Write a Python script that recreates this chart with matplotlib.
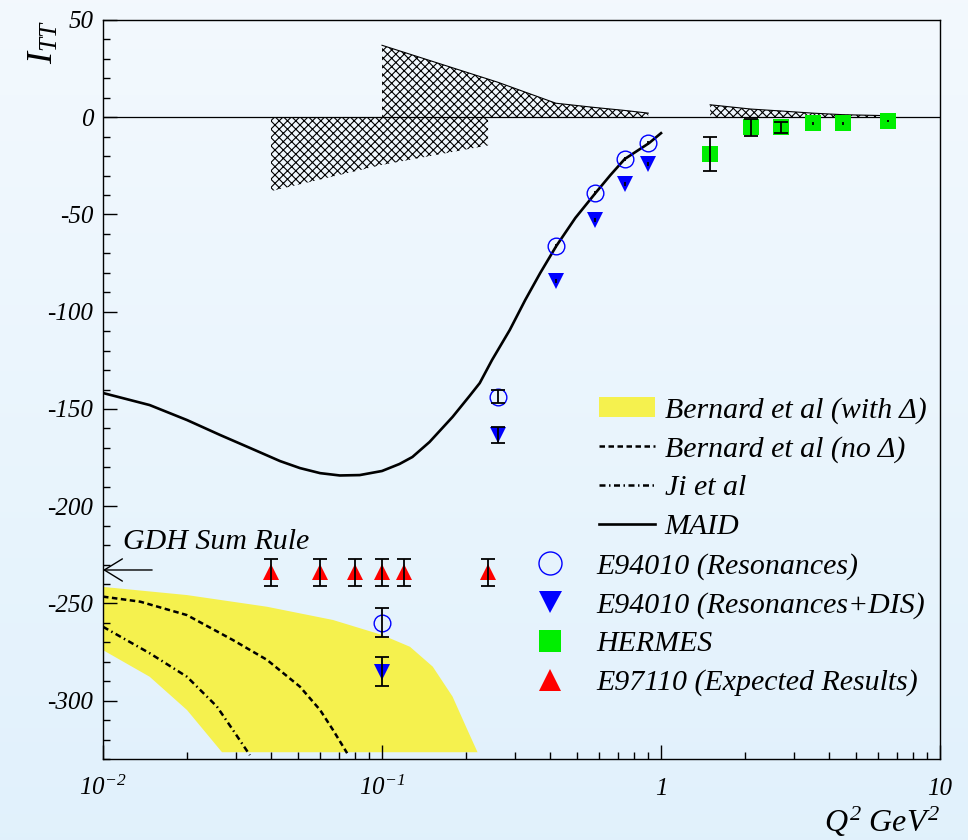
import matplotlib
matplotlib.use("Agg")
import matplotlib.pyplot as plt
import numpy as np
from matplotlib.ticker import MultipleLocator, FixedLocator, LogLocator, NullFormatter

plt.rcParams["font.family"] = ["Liberation Serif", "DejaVu Serif"]
plt.rcParams["font.style"] = "italic"
plt.rcParams["mathtext.fontset"] = "custom"
plt.rcParams["mathtext.rm"] = "Liberation Serif:italic"
plt.rcParams["mathtext.it"] = "Liberation Serif:italic"
plt.rcParams["axes.unicode_minus"] = False
plt.rcParams["hatch.linewidth"] = 0.8

# MAID model
maid_q2 = [0.01, 0.0147, 0.02, 0.0263, 0.0337, 0.0431, 0.0508, 0.06, 0.0706, 0.0832, 0.1,
           0.1155, 0.1285, 0.148, 0.179, 0.206, 0.224, 0.248, 0.287, 0.326, 0.369, 0.421,
           0.493, 0.582, 0.659, 0.741, 0.906, 1.0]
maid_itt = [-141.8, -148.0, -155.7, -163.4, -170.1, -176.8, -180.4, -183.0, -184.2, -184.0,
            -181.9, -178.3, -174.7, -167.0, -154.1, -143.3, -136.7, -124.8, -109.4, -94.0,
            -80.1, -66.3, -51.8, -39.0, -29.7, -21.5, -13.3, -8.2]

# Bernard et al with Delta: band edges
bern_up_q2 = [0.01, 0.02, 0.0387, 0.0667, 0.1, 0.126, 0.152, 0.179, 0.2, 0.22]
bern_up_itt = [-241.5, -245.7, -251.7, -258.5, -266.2, -272.3, -282.5, -297.9, -313.4, -326.5]
bern_lo_q2 = [0.01, 0.0147, 0.02, 0.0267]
bern_lo_itt = [-274.0, -287.7, -304.8, -326.5]

# Bernard et al without Delta
bern_nd_q2 = [0.01, 0.0136, 0.02, 0.0292, 0.0387, 0.0508, 0.06, 0.0667, 0.075]
bern_nd_itt = [-246.5, -249.1, -256.0, -268.8, -279.0, -292.8, -304.8, -315.0, -327.0]

# Ji et al
ji_q2 = [0.01, 0.0147, 0.02, 0.0256, 0.0292, 0.0336]
ji_itt = [-262.0, -275.6, -287.7, -303.0, -315.0, -328.0]

# E94010
e94_q2 = [0.1, 0.26, 0.42, 0.58, 0.74, 0.9]
e94_res = [-260.0, -143.7, -66.3, -39.0, -21.5, -13.3]
e94_res_err = [7.5, 3.3, 1.0, 1.0, 1.0, 1.0]
e94_dis = [-285.0, -163.4, -84.0, -53.0, -34.5, -24.0]
e94_dis_err = [7.3, 3.9, 1.0, 1.0, 1.0, 1.0]
e94_sys = [37.0, 18.0, 7.2, 5.0, 3.5, 2.1]

# HERMES
herm_q2 = [1.5, 2.1, 2.7, 3.5, 4.5, 6.5]
herm_itt = [-19.1, -5.2, -5.2, -3.2, -3.2, -2.1]
herm_err = [8.7, 4.3, 3.0, 1.0, 1.0, 0.6]
herm_sys = [6.4, 4.2, 3.2, 2.1, 1.3, 0.8]

# E97110 expected
e97_q2 = [0.04, 0.06, 0.08, 0.10, 0.12, 0.24]
e97_itt = [-234.0, -234.0, -234.0, -234.0, -234.0, -234.0]
e97_err = [7.0, 7.0, 7.0, 7.0, 7.0, 7.0]
e97_sys_q2 = [0.04, 0.1, 0.24]
e97_sys = [-38.0, -24.5, -14.5]

gdh_value = -232.8

fig = plt.figure(figsize=(9.68, 8.4), dpi=100)

# light blue background gradient
bg = fig.add_axes([0, 0, 1, 1], zorder=-10)
top = np.array([0.953, 0.976, 0.996])
bot = np.array([0.882, 0.945, 0.988])
t = np.linspace(0, 1, 256)[:, None]
grad = top[None, :] * (1 - t) + bot[None, :] * t
bg.imshow(grad[:, None, :], aspect="auto", extent=[0, 1, 0, 1])
bg.axis("off")

ax = fig.add_axes([0.1064, 0.0964, 0.8647, 0.8798])
ax.set_facecolor("none")
ax.set_xscale("log")

# Bernard band
ax.fill(np.r_[bern_up_q2, bern_lo_q2[::-1]], np.r_[bern_up_itt, bern_lo_itt[::-1]],
        color="#f5f14e", lw=0, label="Bernard et al (with Δ)", zorder=1)
ax.plot(bern_nd_q2, bern_nd_itt, color="black", lw=1.8, dashes=(2.2, 1.4),
        label="Bernard et al (no Δ)", zorder=2)
ax.plot(ji_q2, ji_itt, color="black", lw=1.8, dashes=(2.4, 1.4, 0.6, 1.4),
        label="Ji et al", zorder=2)
ax.plot(maid_q2, maid_itt, color="black", lw=1.9, label="MAID", zorder=2)

# systematic error bands
ax.fill_between(e97_sys_q2, 0, e97_sys, facecolor="none", edgecolor="black", hatch="xxxx", lw=0)
ax.fill_between(e94_q2, 0, e94_sys, facecolor="none", edgecolor="black", hatch="xxxx", lw=0)
ax.plot(e94_q2, e94_sys, color="black", lw=0.8)
ax.fill_between(herm_q2, 0, herm_sys, facecolor="none", edgecolor="black", hatch="xxxx", lw=0)
ax.plot(herm_q2, herm_sys, color="black", lw=0.8)

ax.axhline(0, color="black", lw=0.9, zorder=1.5)

# data points
ms = 12
h_res, = ax.plot(e94_q2, e94_res, ls="none", marker="o", ms=ms, mfc="none", mec="#0000ff",
                 mew=1.0, label="E94010 (Resonances)", zorder=4)
h_dis, = ax.plot(e94_q2, e94_dis, ls="none", marker="v", ms=ms, color="#0000ff", mew=0,
                 label="E94010 (Resonances+DIS)", zorder=4)
h_her, = ax.plot(herm_q2, herm_itt, ls="none", marker="s", ms=ms, color="#00ee00", mew=0,
                 label="HERMES", zorder=4)
h_e97, = ax.plot(e97_q2, e97_itt, ls="none", marker="^", ms=ms, color="#ff0000", mew=0,
                 label="E97110 (Expected Results)", zorder=4)


def draw_errors(q2, val, err):
    q2, val, err = np.asarray(q2), np.asarray(val), np.asarray(err)
    big = err > 2
    ax.errorbar(q2[big], val[big], yerr=err[big], fmt="none", ecolor="black",
                elinewidth=1.3, capsize=5, capthick=1.3, zorder=5)
    ax.errorbar(q2[~big], val[~big], yerr=err[~big], fmt="none", ecolor="black",
                elinewidth=1.3, capsize=0, zorder=5)


draw_errors(e94_q2, e94_res, e94_res_err)
draw_errors(e94_q2, e94_dis, e94_dis_err)
draw_errors(herm_q2, herm_itt, herm_err)
draw_errors(e97_q2, e97_itt, e97_err)

# GDH sum rule arrow
ax.annotate("", xy=(0.01, gdh_value), xytext=(0.015, gdh_value),
            arrowprops=dict(arrowstyle="->,head_length=13,head_width=8", lw=1.0,
                            color="black", mutation_scale=1, shrinkA=0, shrinkB=0))
ax.text(0.0118, -222, "GDH Sum Rule", fontsize=21.5, va="baseline", ha="left")

ax.set_xlim(0.01, 10)
ax.set_ylim(-330, 50)
ax.yaxis.set_major_locator(MultipleLocator(50))
ax.yaxis.set_minor_locator(MultipleLocator(10))
ax.xaxis.set_major_locator(FixedLocator([0.01, 0.1, 1, 10]))
ax.xaxis.set_minor_locator(LogLocator(base=10, subs=np.arange(2, 10)))
ax.xaxis.set_minor_formatter(NullFormatter())
ax.set_xticklabels(["$10^{-2}$", "$10^{-1}$", "1", "10"], va="baseline")
ax.tick_params(which="both", direction="in", top=False, right=False, width=1.0)
ax.tick_params(which="major", length=10)
ax.tick_params(which="minor", length=5)
ax.tick_params(axis="y", labelsize=18, pad=7)
ax.tick_params(axis="x", labelsize=18, pad=26)
for sp in ax.spines.values():
    sp.set_linewidth(1.0)

ax.set_ylabel("$I_{TT}$", fontsize=26, loc="top")
ax.yaxis.set_label_coords(-0.05, 1.0)
ax.set_xlabel("$Q^2\\ GeV^2$", fontsize=23, loc="right", va="top")
ax.xaxis.set_label_coords(1.0, -0.062)

theory = [h for h in ax.get_legend_handles_labels()[0][:4]]
leg1 = ax.legend(theory, [h.get_label() for h in theory], loc="upper left",
                 bbox_to_anchor=(599 / 968, 1 - 396.5 / 840), bbox_transform=fig.transFigure,
                 frameon=False, fontsize=21.5, handlelength=1.87, handletextpad=0.33,
                 labelspacing=0.395, borderpad=0, borderaxespad=0)
ax.add_artist(leg1)
ax.legend([h_res, h_dis, h_her, h_e97],
          [h.get_label() for h in (h_res, h_dis, h_her, h_e97)], loc="upper left",
          bbox_to_anchor=(532 / 968, 1 - 552.5 / 840), bbox_transform=fig.transFigure,
          frameon=False, fontsize=21.5, handlelength=1.2, handletextpad=0.97,
          labelspacing=0.395, borderpad=0, borderaxespad=0, numpoints=1, markerscale=1.38)

fig.savefig("out.png", dpi=100)
